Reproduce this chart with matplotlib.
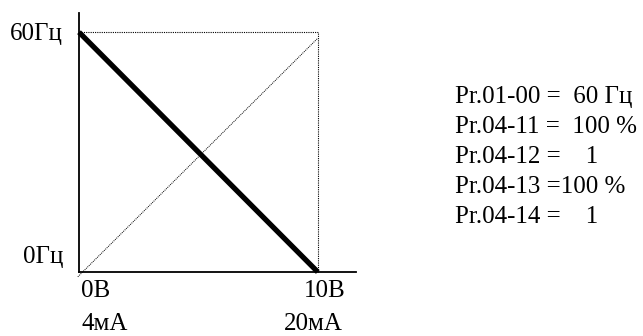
import matplotlib.pyplot as plt

plt.rcParams['font.family'] = ['Liberation Serif', 'DejaVu Serif']

# characteristic: output frequency vs analog input
volts = [0, 10]
freq = [60, 0]
freq_max = 60
volt_max = 10

# dotted reference diagonal (as drawn)
ref_x = [-0.05, 10]
ref_y = [-1.2, 58.5]

y_labels = ['0Гц', '60Гц']
x_labels_v = ['0В', '10В']
x_labels_ma = ['4мА', '20мА']

params = ['Pr.01-00 =  60 Гц',
          'Pr.04-11 =  100 %',
          'Pr.04-12 =    1',
          'Pr.04-13 =100 %',
          'Pr.04-14 =    1']

W, H = 643, 336
fig = plt.figure(figsize=(W / 100, H / 100), dpi=100)
ax = fig.add_axes([79 / W, (H - 272) / H, (356 - 79) / W, (272 - 13) / H])
ax.set_xlim(0, 11.6)
ax.set_ylim(0, 64.8)
ax.spines['top'].set_visible(False)
ax.spines['right'].set_visible(False)
ax.spines['left'].set_linewidth(1.3)
ax.spines['bottom'].set_linewidth(1.3)
ax.set_xticks([])
ax.set_yticks([])
ax.patch.set_alpha(0)

# dotted box and diagonal
ax.plot([0, volt_max], [freq_max, freq_max], color='black', lw=0.8, ls=(0, (1, 1)), clip_on=False)
ax.plot([volt_max, volt_max], [0, freq_max], color='black', lw=0.8, ls=(0, (1, 1)), clip_on=False)
ax.plot(ref_x, ref_y, color='black', lw=0.7, ls=(0, (1, 1)), clip_on=False)

# main line
ax.plot(volts, freq, color='black', lw=3.8, solid_capstyle='butt', clip_on=False)

fs = 18


def px_text(x, y, s, ha='left'):
    # place text by pixel position (y from top, baseline)
    fig.text(x / W, 1 - y / H, s, ha=ha, va='baseline', fontsize=fs)


px_text(63, 40, y_labels[1], ha='right')
px_text(63, 263, y_labels[0], ha='right')
px_text(81, 297, x_labels_v[0])
px_text(304, 297, x_labels_v[1])
px_text(81, 330, x_labels_ma[0])
px_text(343, 330, x_labels_ma[1], ha='right')

for i, p in enumerate(params):
    px_text(455, 103 + i * 30, p)

fig.savefig('out.png', dpi=100)
